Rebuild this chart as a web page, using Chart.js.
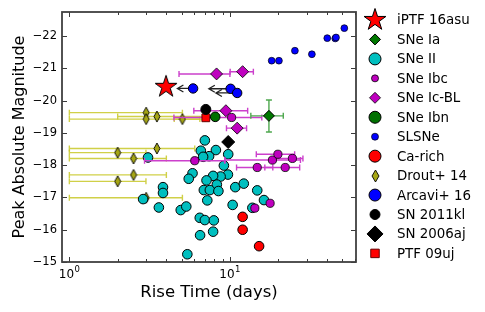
<!DOCTYPE html>
<html><head><meta charset="utf-8">
<script src="https://cdn.jsdelivr.net/npm/chart.js@4/dist/chart.umd.min.js"></script>
<style>html,body{margin:0;padding:0;background:#fff;}canvas{display:block}</style>
</head><body>
<canvas id="c" width="485" height="312"></canvas>
<script>
// ---------------- data ----------------
const yTicks = [-22,-21,-20,-19,-18,-17,-16,-15];
const xTicks = [1,10];
const xTickBase = ['10','10'];
const xTickExp = ['0','1'];
const xMinorTicks = [2,3,4,5,6,7,8,9,20,30,40,50,60];

const iptfX = [4.0];
const iptfY = [-20.43];

const snIaX = [17.5];
const snIaY = [-19.53];
const snIaXLo = [13.5];
const snIaXHi = [21.5];
const snIaYLo = [-20.02];
const snIaYHi = [-19.03];

const snIIX = [6.98,6.59,8.18,7.42,6.81,3.09,9.76,9.17,9.72,8.75,7.86,7.15,5.85,5.54,8.29,6.88,7.50,8.48,10.8,12.2,7.23,10.4,3.83,3.83,2.88,3.61,4.94,5.35,13.8,6.49,6.98,7.94,6.52,7.86,5.43,14.8,16.3];
const snIIY = [-18.77,-18.45,-18.47,-18.28,-18.26,-18.24,-18.34,-17.99,-17.71,-17.65,-17.67,-17.53,-17.75,-17.58,-17.40,-17.23,-17.23,-17.20,-17.32,-17.43,-16.91,-16.77,-17.32,-17.14,-16.95,-16.69,-16.61,-16.72,-16.68,-16.37,-16.30,-16.29,-15.83,-15.94,-15.24,-17.22,-16.92];

const ibcX = [6.04,18.4,19.9,24.5,14.8,22.1,17.8,14.3,10.25];
const ibcY = [-18.14,-18.16,-18.34,-18.21,-17.93,-17.93,-16.82,-16.67,-19.48];
const ibcXLo = [2.94,9.3,14.6,19.4,11.0,16.5,null,null,4.48];
const ibcXHi = [9.3,27.5,25.3,28.5,18.5,27.2,null,null,15.8];

const icblX = [8.26,12.0,9.44,11.1];
const icblY = [-20.83,-20.9,-19.69,-19.15];
const icblXLo = [4.82,10.04,5.96,9.52];
const icblXHi = [10.0,14.0,12.9,12.7];

const ibnX = [8.1];
const ibnY = [-19.5];

const slsnX = [18.2,20.2,25.4,32.4,40.4,45.3,45.8,51.6];
const slsnY = [-21.24,-21.24,-21.55,-21.44,-21.94,-21.93,-21.96,-22.25];

const caX = [12.0,12.0,15.2];
const caY = [-16.4,-16.0,-15.49];

const droutX = [3.01,3.01,3.51,5.06,3.51,2.0,2.51,2.51,2.0,3.01];
const droutY = [-19.63,-19.43,-19.51,-19.43,-18.52,-18.39,-18.21,-17.70,-17.5,-16.99];
const droutXLo = [1.0,1.0,2.0,4.5,1.0,1.0,1.0,1.0,1.0,1.0];
const droutXHi = [5.06,7.0,7.0,6.5,6.04,3.0,4.02,4.02,3.0,5.06];

const arcaviX = [5.9,10.1,11.1];
const arcaviY = [-20.38,-20.37,-20.24];
const arcaviArrowTo = [4.71,7.39,8.18];

const kl11X = [7.08];
const kl11Y = [-19.73];

const aj06X = [9.76];
const aj06Y = [-18.72];

const uj09X = [7.08];
const uj09Y = [-19.47];

// ---------------- marker images ----------------
function mkStar(r, fill){
  const s = Math.ceil(2*r+3); const c = document.createElement('canvas'); c.width=s; c.height=s;
  const g = c.getContext('2d'); g.beginPath();
  for(let i=0;i<10;i++){ const rr = i%2 ? r*0.382 : r; const a = -Math.PI/2 + i*Math.PI/5;
    const px = s/2 + rr*Math.cos(a), py = s/2 + rr*Math.sin(a); if(i) g.lineTo(px,py); else g.moveTo(px,py); }
  g.closePath(); g.fillStyle = fill; g.fill(); g.lineWidth = 1; g.strokeStyle = '#000'; g.stroke();
  return c;
}
function mkThinDiamond(w, h, fill){
  const c = document.createElement('canvas'); c.width = w+2; c.height = h+2;
  const g = c.getContext('2d'); const cx = (w+2)/2, cy = (h+2)/2;
  g.beginPath(); g.moveTo(cx,cy-h/2); g.lineTo(cx+w/2,cy); g.lineTo(cx,cy+h/2); g.lineTo(cx-w/2,cy); g.closePath();
  g.fillStyle = fill; g.fill(); g.lineWidth = 0.9; g.strokeStyle = '#000'; g.stroke();
  return c;
}
const starPlot = mkStar(11.5, '#ff0000');
const starLeg = mkStar(11.5, '#ff0000');
const dPlot = mkThinDiamond(6, 11, '#a6a614');
const dLeg = mkThinDiamond(7, 12, '#a6a614');

function pts(xs, ys){ return xs.map((x,i)=>({x:x, y:ys[i]})); }

const datasets = [
  {label:'iPTF 16asu', data:pts(iptfX,iptfY), pointStyle:starPlot, pointRadius:11, order:0,
   leg:{style:starLeg, r:11}},
  {label:'SNe Ia', data:pts(snIaX,snIaY), pointStyle:'rectRot', pointRadius:5.5, pointBackgroundColor:'#007800', pointBorderColor:'#000', pointBorderWidth:1, order:9,
   errX:{lo:snIaXLo, hi:snIaXHi}, errY:{lo:snIaYLo, hi:snIaYHi}, errColor:'#4fa84f', leg:{style:'rectRot', r:5.5}},
  {label:'SNe II', data:pts(snIIX,snIIY), pointStyle:'circle', pointRadius:4.8, pointBackgroundColor:'#00bfbf', pointBorderColor:'#000', pointBorderWidth:1, order:12,
   leg:{style:'circle', r:6}},
  {label:'SNe Ibc', data:pts(ibcX,ibcY), pointStyle:'circle', pointRadius:4.1, pointBackgroundColor:'#bf00bf', pointBorderColor:'#000', pointBorderWidth:0.8, order:11,
   errX:{lo:ibcXLo, hi:ibcXHi}, errColor:'#cc40cc', leg:{style:'circle', r:3.5}},
  {label:'SNe Ic-BL', data:pts(icblX,icblY), pointStyle:'rectRot', pointRadius:6, pointBackgroundColor:'#bf00bf', pointBorderColor:'#000', pointBorderWidth:0.8, order:10,
   errX:{lo:icblXLo, hi:icblXHi}, errColor:'#cc40cc', leg:{style:'rectRot', r:5.5}},
  {label:'SNe Ibn', data:pts(ibnX,ibnY), pointStyle:'circle', pointRadius:4.8, pointBackgroundColor:'#007000', pointBorderColor:'#000', pointBorderWidth:1, order:3,
   leg:{style:'circle', r:6}},
  {label:'SLSNe', data:pts(slsnX,slsnY), pointStyle:'circle', pointRadius:3.4, pointBackgroundColor:'#0000ff', pointBorderColor:'#000', pointBorderWidth:0.7, order:8,
   leg:{style:'circle', r:3.5}},
  {label:'Ca-rich', data:pts(caX,caY), pointStyle:'circle', pointRadius:4.8, pointBackgroundColor:'#ff0000', pointBorderColor:'#000', pointBorderWidth:1, order:7,
   leg:{style:'circle', r:6}},
  {label:'Drout+ 14', data:pts(droutX,droutY), pointStyle:dPlot, pointRadius:5, order:13,
   errX:{lo:droutXLo, hi:droutXHi}, errColor:'rgba(200,200,40,0.85)', leg:{style:dLeg, r:6}},
  {label:'Arcavi+ 16', data:pts(arcaviX,arcaviY), pointStyle:'circle', pointRadius:4.7, pointBackgroundColor:'#0000ff', pointBorderColor:'#000', pointBorderWidth:1, order:6,
   arrows:arcaviArrowTo, leg:{style:'circle', r:6}},
  {label:'SN 2011kl', data:pts(kl11X,kl11Y), pointStyle:'circle', pointRadius:5, pointBackgroundColor:'#000', pointBorderColor:'#000', pointBorderWidth:1, order:4,
   leg:{style:'circle', r:5}},
  {label:'SN 2006aj', data:pts(aj06X,aj06Y), pointStyle:'rectRot', pointRadius:6.5, pointBackgroundColor:'#000', pointBorderColor:'#000', pointBorderWidth:1, order:2,
   leg:{style:'rectRot', r:8}},
  {label:'PTF 09uj', data:pts(uj09X,uj09Y), pointStyle:'rect', pointRadius:5.5, pointBackgroundColor:'#ff0000', pointBorderColor:'#600', pointBorderWidth:1, order:5,
   leg:{style:'rect', r:6}}
];

// ---------------- helpers ----------------
function drawMarker(ctx, style, r, x, y, fill, stroke, bw){
  ctx.save();
  if (typeof style === 'object'){ ctx.drawImage(style, Math.round(x - style.width/2), Math.round(y - style.height/2)); ctx.restore(); return; }
  ctx.beginPath();
  if (style === 'circle'){ ctx.arc(x,y,r,0,Math.PI*2); }
  else if (style === 'rectRot'){ ctx.moveTo(x,y-r); ctx.lineTo(x+r,y); ctx.lineTo(x,y+r); ctx.lineTo(x-r,y); ctx.closePath(); }
  else if (style === 'rect'){ const s = r*Math.SQRT1_2; ctx.rect(x-s,y-s,2*s,2*s); }
  ctx.fillStyle = fill; ctx.fill();
  if (bw>0){ ctx.lineWidth = bw; ctx.strokeStyle = stroke; ctx.stroke(); }
  ctx.restore();
}

const extras = {
  id:'extras',
  beforeDatasetDraw(chart, args){
    const ds = chart.data.datasets[args.index];
    const ctx = chart.ctx, xs = chart.scales.x, ys = chart.scales.y;
    ctx.save();
    ctx.beginPath(); ctx.rect(chart.chartArea.left, chart.chartArea.top, chart.chartArea.right-chart.chartArea.left, chart.chartArea.bottom-chart.chartArea.top); ctx.clip();
    if (ds.errX){
      ctx.strokeStyle = ds.errColor; ctx.lineWidth = 1.4;
      ds.data.forEach((p,i)=>{
        const lo = ds.errX.lo[i], hi = ds.errX.hi[i]; if (lo==null) return;
        const y = ys.getPixelForValue(p.y), x0 = xs.getPixelForValue(lo), x1 = xs.getPixelForValue(hi);
        ctx.beginPath(); ctx.moveTo(x0,y); ctx.lineTo(x1,y);
        ctx.moveTo(x0,y-3); ctx.lineTo(x0,y+3); ctx.moveTo(x1,y-3); ctx.lineTo(x1,y+3); ctx.stroke();
      });
    }
    if (ds.errY){
      ctx.strokeStyle = ds.errColor; ctx.lineWidth = 1.4;
      ds.data.forEach((p,i)=>{
        const x = xs.getPixelForValue(p.x), y0 = ys.getPixelForValue(ds.errY.lo[i]), y1 = ys.getPixelForValue(ds.errY.hi[i]);
        ctx.beginPath(); ctx.moveTo(x,y0); ctx.lineTo(x,y1);
        ctx.moveTo(x-3,y0); ctx.lineTo(x+3,y0); ctx.moveTo(x-3,y1); ctx.lineTo(x+3,y1); ctx.stroke();
      });
    }
    if (ds.arrows){
      ctx.strokeStyle = '#222'; ctx.lineWidth = 1.3;
      ds.data.forEach((p,i)=>{
        const y = ys.getPixelForValue(p.y), x0 = xs.getPixelForValue(p.x), x1 = xs.getPixelForValue(ds.arrows[i]);
        ctx.beginPath(); ctx.moveTo(x0,y); ctx.lineTo(x1,y);
        ctx.moveTo(x1+6,y-3.5); ctx.lineTo(x1,y); ctx.lineTo(x1+6,y+3.5); ctx.stroke();
      });
    }
    ctx.restore();
  },
  afterDatasetsDraw(chart){
    const ctx = chart.ctx, a = chart.chartArea, xs = chart.scales.x, ys = chart.scales.y;
    ctx.save();
    ctx.strokeStyle = '#3a3a3a'; ctx.lineWidth = 1;
    ctx.beginPath();
    yTicks.forEach(v=>{ const y = Math.round(ys.getPixelForValue(v))+0.5;
      ctx.moveTo(a.left,y); ctx.lineTo(a.left+5,y); ctx.moveTo(a.right,y); ctx.lineTo(a.right-5,y); });
    xTicks.forEach(v=>{ const x = Math.round(xs.getPixelForValue(v))+0.5;
      ctx.moveTo(x,a.bottom); ctx.lineTo(x,a.bottom-5); ctx.moveTo(x,a.top); ctx.lineTo(x,a.top+5); });
    xMinorTicks.forEach(v=>{ const x = Math.round(xs.getPixelForValue(v))+0.5;
      ctx.moveTo(x,a.bottom); ctx.lineTo(x,a.bottom-3); ctx.moveTo(x,a.top); ctx.lineTo(x,a.top+3); });
    ctx.stroke();
    ctx.lineWidth = 1.8; ctx.strokeStyle = '#404040';
    ctx.strokeRect(a.left, a.top, a.right-a.left, a.bottom-a.top);
    // x tick labels with superscript exponent
    ctx.fillStyle = '#000'; ctx.textBaseline = 'alphabetic'; ctx.textAlign = 'left';
    xTicks.forEach((v,i)=>{
      const x = xs.getPixelForValue(v);
      ctx.font = '12px "DejaVu Sans"';
      const wb = ctx.measureText(xTickBase[i]).width;
      ctx.font = '8.5px "DejaVu Sans"';
      const we = ctx.measureText(xTickExp[i]).width;
      const x0 = x - (wb + we + 0.5)/2;
      ctx.font = '12px "DejaVu Sans"';
      ctx.fillText(xTickBase[i], x0, 278);
      ctx.font = '8.5px "DejaVu Sans"';
      ctx.fillText(xTickExp[i], x0 + wb + 0.5, 272);
    });
    ctx.restore();
  },
  afterDraw(chart){
    const ctx = chart.ctx;
    const mx = 375, tx = 397, y0 = 20, step = 19.45;
    ctx.save();
    ctx.font = '13.4px "DejaVu Sans"'; ctx.fillStyle = '#000'; ctx.textBaseline = 'middle'; ctx.textAlign = 'left';
    chart.data.datasets.forEach((ds,i)=>{
      const y = y0 + i*step;
      drawMarker(ctx, ds.leg.style, ds.leg.r, mx, y, ds.pointBackgroundColor || '#000', ds.pointBorderColor || '#000', ds.pointBorderWidth || 1);
      ctx.fillStyle = '#000';
      ctx.fillText(ds.label, tx, y+1);
    });
    ctx.restore();
  }
};

Chart.defaults.font.family = '"DejaVu Sans", sans-serif';
Chart.defaults.color = '#000';

new Chart(document.getElementById('c'), {
  type:'scatter',
  data:{datasets:datasets},
  plugins:[extras],
  options:{
    responsive:false, devicePixelRatio:1, animation:false, events:[],
    layout:{padding:{top:8, right:129, left:0, bottom:0}},
    plugins:{legend:{display:false}, tooltip:{enabled:false}},
    scales:{
      x:{type:'logarithmic', min:0.9, max:61,
        grid:{display:false, drawTicks:false}, border:{display:false},
        ticks:{display:false},
        afterBuildTicks:(s)=>{ s.ticks = xTicks.map(v=>({value:v})); },
        afterFit:(s)=>{ s.height = 50; },
        title:{display:true, text:'Rise Time (days)', font:{size:16.5}, color:'#000', padding:{top:0, bottom:9}}
      },
      y:{type:'linear', reverse:true, min:-22.75, max:-15,
        grid:{display:false, drawTicks:false}, border:{display:false},
        ticks:{font:{size:11.5}, color:'#000', padding:5,
          callback:(v)=> '\u2212' + Math.abs(v)},
        afterBuildTicks:(s)=>{ s.ticks = yTicks.map(v=>({value:v})); },
        afterFit:(s)=>{ s.width = 62; },
        title:{display:true, text:'Peak Absolute Magnitude', font:{size:16}, color:'#000', padding:{top:10, bottom:0}}
      }
    }
  }
});
</script>
</body></html>
